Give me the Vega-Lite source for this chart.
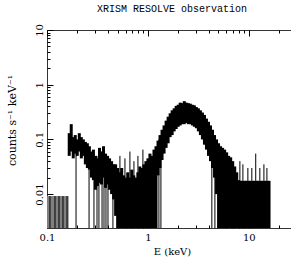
{
  "$schema": "https://vega.github.io/schema/vega-lite/v6.json",
  "autosize": "none",
  "padding": {"left": 47, "top": 30, "right": 0, "bottom": 39},
  "width": 250,
  "height": 198,
  "background": "white",
  "config": {
    "view": {"stroke": "#333", "strokeWidth": 1},
    "font": "DejaVu Serif"
  },
  "title": {
    "text": "XRISM RESOLVE observation",
    "font": "Liberation Mono",
    "fontSize": 10,
    "fontWeight": "normal",
    "anchor": "middle",
    "frame": "group",
    "baseline": "alphabetic",
    "offset": 2,
    "color": "black"
  },
  "datasets": {
    "floor": [
      {"E": 0.1, "hi": 0.0092, "lo": 0.001},
      {"E": 0.1047, "hi": 0.0092, "lo": 0.001},
      {"E": 0.1096, "hi": 0.0092, "lo": 0.001},
      {"E": 0.1148, "hi": 0.0092, "lo": 0.001},
      {"E": 0.1202, "hi": 0.0092, "lo": 0.001},
      {"E": 0.1259, "hi": 0.0092, "lo": 0.001},
      {"E": 0.1318, "hi": 0.0092, "lo": 0.001},
      {"E": 0.138, "hi": 0.0092, "lo": 0.001},
      {"E": 0.1445, "hi": 0.0092, "lo": 0.001},
      {"E": 0.1514, "hi": 0.0092, "lo": 0.001},
      {"E": 0.1585, "hi": 0.0092, "lo": 0.001}
    ],
    "bins": [
      {"E": 0.166, "hi": 0.13, "lo": 0.05},
      {"E": 0.1738, "hi": 0.19, "lo": 0.06},
      {"E": 0.182, "hi": 0.11, "lo": 0.045},
      {"E": 0.1905, "hi": 0.12, "lo": 0.055},
      {"E": 0.1995, "hi": 0.1, "lo": 0.05},
      {"E": 0.2089, "hi": 0.13, "lo": 0.06},
      {"E": 0.2188, "hi": 0.11, "lo": 0.045},
      {"E": 0.2291, "hi": 0.1, "lo": 0.05},
      {"E": 0.2399, "hi": 0.09, "lo": 0.035},
      {"E": 0.2512, "hi": 0.085, "lo": 0.03},
      {"E": 0.263, "hi": 0.075, "lo": 0.028},
      {"E": 0.2754, "hi": 0.06, "lo": 0.02},
      {"E": 0.2884, "hi": 0.065, "lo": 0.018},
      {"E": 0.302, "hi": 0.05, "lo": 0.012},
      {"E": 0.3162, "hi": 0.045, "lo": 0.014},
      {"E": 0.3311, "hi": 0.07, "lo": 0.016},
      {"E": 0.3467, "hi": 0.06, "lo": 0.015},
      {"E": 0.3631, "hi": 0.075, "lo": 0.02},
      {"E": 0.3802, "hi": 0.055, "lo": 0.013},
      {"E": 0.3981, "hi": 0.05, "lo": 0.015},
      {"E": 0.4169, "hi": 0.045, "lo": 0.012},
      {"E": 0.4365, "hi": 0.04, "lo": 0.01},
      {"E": 0.4571, "hi": 0.035, "lo": 0.008},
      {"E": 0.4786, "hi": 0.035, "lo": 0.004},
      {"E": 0.5012, "hi": 0.03, "lo": 0.001},
      {"E": 0.5248, "hi": 0.025, "lo": 0.001},
      {"E": 0.5495, "hi": 0.03, "lo": 0.001},
      {"E": 0.5754, "hi": 0.022, "lo": 0.001},
      {"E": 0.6026, "hi": 0.02, "lo": 0.001},
      {"E": 0.631, "hi": 0.025, "lo": 0.001},
      {"E": 0.6607, "hi": 0.02, "lo": 0.001},
      {"E": 0.6918, "hi": 0.028, "lo": 0.001},
      {"E": 0.7244, "hi": 0.022, "lo": 0.001},
      {"E": 0.7586, "hi": 0.02, "lo": 0.001},
      {"E": 0.7943, "hi": 0.025, "lo": 0.001},
      {"E": 0.8318, "hi": 0.032, "lo": 0.001},
      {"E": 0.871, "hi": 0.03, "lo": 0.001},
      {"E": 0.912, "hi": 0.035, "lo": 0.001},
      {"E": 0.955, "hi": 0.04, "lo": 0.001},
      {"E": 1.0, "hi": 0.045, "lo": 0.001},
      {"E": 1.047, "hi": 0.055, "lo": 0.001},
      {"E": 1.096, "hi": 0.05, "lo": 0.001},
      {"E": 1.148, "hi": 0.065, "lo": 0.001},
      {"E": 1.202, "hi": 0.075, "lo": 0.001},
      {"E": 1.259, "hi": 0.095, "lo": 0.022},
      {"E": 1.318, "hi": 0.12, "lo": 0.03},
      {"E": 1.38, "hi": 0.15, "lo": 0.042},
      {"E": 1.445, "hi": 0.18, "lo": 0.055},
      {"E": 1.514, "hi": 0.22, "lo": 0.07},
      {"E": 1.585, "hi": 0.26, "lo": 0.085},
      {"E": 1.66, "hi": 0.3, "lo": 0.11},
      {"E": 1.738, "hi": 0.34, "lo": 0.12},
      {"E": 1.82, "hi": 0.37, "lo": 0.14},
      {"E": 1.905, "hi": 0.41, "lo": 0.155},
      {"E": 1.995, "hi": 0.43, "lo": 0.17},
      {"E": 2.089, "hi": 0.47, "lo": 0.18},
      {"E": 2.188, "hi": 0.46, "lo": 0.19},
      {"E": 2.291, "hi": 0.5, "lo": 0.19},
      {"E": 2.399, "hi": 0.47, "lo": 0.2},
      {"E": 2.512, "hi": 0.46, "lo": 0.19},
      {"E": 2.63, "hi": 0.45, "lo": 0.19},
      {"E": 2.754, "hi": 0.43, "lo": 0.18},
      {"E": 2.884, "hi": 0.42, "lo": 0.17},
      {"E": 3.02, "hi": 0.39, "lo": 0.16},
      {"E": 3.162, "hi": 0.37, "lo": 0.14},
      {"E": 3.311, "hi": 0.34, "lo": 0.12},
      {"E": 3.467, "hi": 0.31, "lo": 0.1},
      {"E": 3.631, "hi": 0.28, "lo": 0.08},
      {"E": 3.802, "hi": 0.24, "lo": 0.065},
      {"E": 3.981, "hi": 0.21, "lo": 0.05},
      {"E": 4.169, "hi": 0.18, "lo": 0.04},
      {"E": 4.365, "hi": 0.15, "lo": 0.03},
      {"E": 4.571, "hi": 0.12, "lo": 0.02},
      {"E": 4.786, "hi": 0.1, "lo": 0.01},
      {"E": 5.012, "hi": 0.085, "lo": 0.001},
      {"E": 5.248, "hi": 0.075, "lo": 0.001},
      {"E": 5.495, "hi": 0.07, "lo": 0.001},
      {"E": 5.754, "hi": 0.065, "lo": 0.001},
      {"E": 6.026, "hi": 0.058, "lo": 0.001},
      {"E": 6.31, "hi": 0.05, "lo": 0.001},
      {"E": 6.607, "hi": 0.047, "lo": 0.001},
      {"E": 6.918, "hi": 0.04, "lo": 0.001},
      {"E": 7.244, "hi": 0.032, "lo": 0.001},
      {"E": 7.586, "hi": 0.025, "lo": 0.001},
      {"E": 7.943, "hi": 0.018, "lo": 0.001},
      {"E": 8.318, "hi": 0.0175, "lo": 0.001},
      {"E": 8.71, "hi": 0.0175, "lo": 0.001},
      {"E": 9.12, "hi": 0.0175, "lo": 0.001},
      {"E": 9.55, "hi": 0.0175, "lo": 0.001},
      {"E": 10.0, "hi": 0.0175, "lo": 0.001},
      {"E": 10.47, "hi": 0.0175, "lo": 0.001},
      {"E": 10.96, "hi": 0.0175, "lo": 0.001},
      {"E": 11.48, "hi": 0.0175, "lo": 0.001},
      {"E": 12.02, "hi": 0.0175, "lo": 0.001},
      {"E": 12.59, "hi": 0.0175, "lo": 0.001},
      {"E": 13.18, "hi": 0.0175, "lo": 0.001},
      {"E": 13.8, "hi": 0.0175, "lo": 0.001},
      {"E": 14.45, "hi": 0.0175, "lo": 0.001},
      {"E": 15.14, "hi": 0.0175, "lo": 0.001},
      {"E": 15.85, "hi": 0.0175, "lo": 0.001}
    ],
    "spikes": [
      {"E": 0.107, "hi": 0.0092, "lo": 0.001},
      {"E": 0.12, "hi": 0.0092, "lo": 0.001},
      {"E": 0.1315, "hi": 0.0092, "lo": 0.001},
      {"E": 0.144, "hi": 0.0092, "lo": 0.001},
      {"E": 0.158, "hi": 0.0092, "lo": 0.001},
      {"E": 0.194, "hi": 0.08, "lo": 0.001},
      {"E": 0.261, "hi": 0.06, "lo": 0.001},
      {"E": 0.292, "hi": 0.05, "lo": 0.001},
      {"E": 0.313, "hi": 0.05, "lo": 0.001},
      {"E": 0.327, "hi": 0.05, "lo": 0.001},
      {"E": 0.351, "hi": 0.06, "lo": 0.001},
      {"E": 0.367, "hi": 0.045, "lo": 0.001},
      {"E": 0.384, "hi": 0.05, "lo": 0.001},
      {"E": 0.402, "hi": 0.04, "lo": 0.001},
      {"E": 0.45, "hi": 0.035, "lo": 0.001},
      {"E": 0.528, "hi": 0.05, "lo": 0.018},
      {"E": 0.592, "hi": 0.045, "lo": 0.018},
      {"E": 0.663, "hi": 0.06, "lo": 0.018},
      {"E": 0.727, "hi": 0.04, "lo": 0.018},
      {"E": 0.796, "hi": 0.05, "lo": 0.018},
      {"E": 0.892, "hi": 0.065, "lo": 0.018},
      {"E": 1.285, "hi": 0.1, "lo": 0.001},
      {"E": 1.345, "hi": 0.12, "lo": 0.001},
      {"E": 4.3, "hi": 0.15, "lo": 0.001},
      {"E": 4.61, "hi": 0.12, "lo": 0.001},
      {"E": 8.15, "hi": 0.04, "lo": 0.0175},
      {"E": 8.73, "hi": 0.035, "lo": 0.0175},
      {"E": 9.78, "hi": 0.03, "lo": 0.0175},
      {"E": 10.7, "hi": 0.03, "lo": 0.0175},
      {"E": 11.7, "hi": 0.055, "lo": 0.0175},
      {"E": 12.85, "hi": 0.03, "lo": 0.0175},
      {"E": 14.1, "hi": 0.035, "lo": 0.0175},
      {"E": 15.1, "hi": 0.03, "lo": 0.0175}
    ]
  },
  "layer": [
    {
      "data": {"name": "floor"},
      "mark": {"type": "rule", "color": "#808080", "strokeWidth": 3, "clip": true},
      "encoding": {
        "x": {
          "field": "E", "type": "quantitative",
          "scale": {"type": "log", "domain": [0.1, 30], "nice": false},
          "axis": {
            "orient": "bottom",
            "values": [0.1,0.2,0.3,0.4,0.5,0.6,0.7,0.8,0.9,1,2,3,4,5,6,7,8,9,10,20,30],
            "labelExpr": "indexof([0.1,1,10], datum.value) >= 0 ? datum.label : ''",
            "format": "~g",
            "tickSize": {"condition": {"test": "indexof([0.1,1,10], datum.value) >= 0", "value": -6}, "value": -3},
            "tickColor": "black",
            "domain": false,
            "grid": false,
            "labelFlush": false,
            "labelPadding": 10,
            "labelFont": "DejaVu Serif",
            "labelFontSize": 10,
            "labelColor": "black",
            "title": "E (keV)",
            "titleFont": "DejaVu Serif",
            "titleFontSize": 10,
            "titleFontWeight": "normal",
            "titleColor": "black",
            "titleX": 125,
            "titleY": 23,
            "titleBaseline": "middle",
            "titleAlign": "center"
          }
        },
        "y": {
          "field": "hi", "type": "quantitative",
          "scale": {"type": "log", "domain": [0.0024, 10], "nice": false},
          "axis": {
            "orient": "left",
            "values": [0.003,0.004,0.005,0.006,0.007,0.008,0.009,0.01,0.02,0.03,0.04,0.05,0.06,0.07,0.08,0.09,0.1,0.2,0.3,0.4,0.5,0.6,0.7,0.8,0.9,1,2,3,4,5,6,7,8,9,10],
            "labelExpr": "indexof([0.01,0.1,1,10], datum.value) >= 0 ? datum.label : ''",
            "format": "~g",
            "tickSize": {"condition": {"test": "indexof([0.01,0.1,1,10], datum.value) >= 0", "value": -6}, "value": -3},
            "tickColor": "black",
            "domain": false,
            "grid": false,
            "labelFlush": false,
            "labelAngle": 270,
            "labelAlign": "center",
            "labelBaseline": "bottom",
            "labelPadding": 9,
            "labelFont": "DejaVu Serif",
            "labelFontSize": 10,
            "labelColor": "black",
            "title": "counts s⁻¹ keV⁻¹",
            "titleFont": "DejaVu Serif",
            "titleFontSize": 11,
            "titleFontWeight": "normal",
            "titleColor": "black",
            "titleAngle": 270,
            "titleX": -35,
            "titleY": 90,
            "titleBaseline": "middle",
            "titleAlign": "center"
          }
        },
        "y2": {"field": "lo"}
      }
    },
    {
      "data": {"name": "bins"},
      "mark": {"type": "rule", "color": "black", "strokeWidth": 3, "clip": true},
      "encoding": {
        "x": {
          "field": "E", "type": "quantitative",
          "scale": {"type": "log", "domain": [0.1, 30], "nice": false},
          "axis": {
            "orient": "top",
            "values": [0.1,0.2,0.3,0.4,0.5,0.6,0.7,0.8,0.9,1,2,3,4,5,6,7,8,9,10,20,30],
            "labels": false,
            "tickSize": {"condition": {"test": "indexof([0.1,1,10], datum.value) >= 0", "value": -6}, "value": -3},
            "tickColor": "black",
            "domain": false,
            "grid": false,
            "title": null
          }
        },
        "y": {
          "field": "hi", "type": "quantitative",
          "scale": {"type": "log", "domain": [0.0024, 10], "nice": false},
          "axis": null
        },
        "y2": {"field": "lo"}
      }
    },
    {
      "data": {"name": "spikes"},
      "mark": {"type": "rule", "color": "black", "strokeWidth": 1, "clip": true},
      "encoding": {
        "x": {
          "field": "E", "type": "quantitative",
          "scale": {"type": "log", "domain": [0.1, 30], "nice": false},
          "axis": null
        },
        "y": {
          "field": "hi", "type": "quantitative",
          "scale": {"type": "log", "domain": [0.0024, 10], "nice": false},
          "axis": null
        },
        "y2": {"field": "lo"}
      }
    }
  ],
  "resolve": {"axis": {"x": "independent", "y": "independent"}}
}
